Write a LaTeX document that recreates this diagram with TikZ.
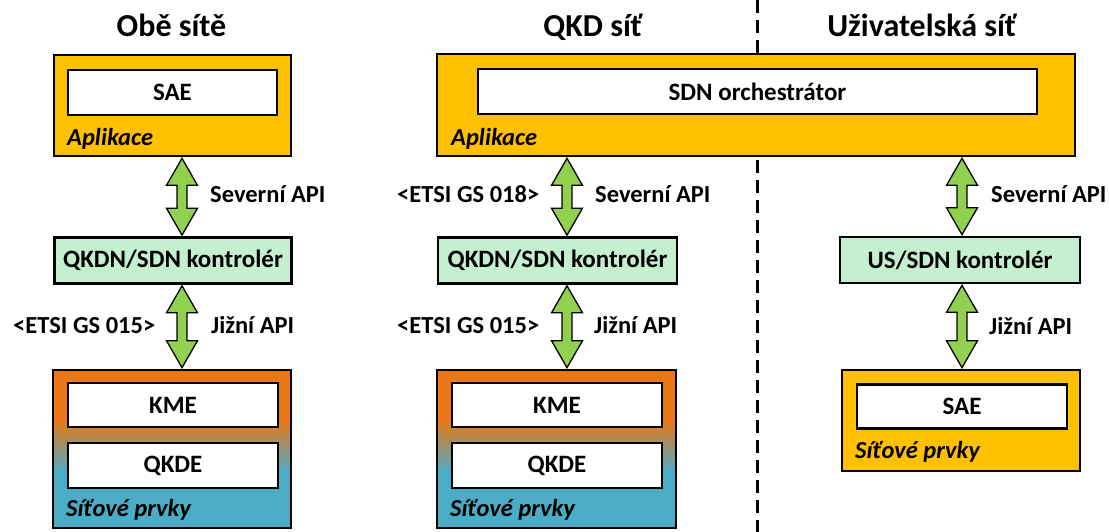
\documentclass[tikz,border=0pt]{standalone}
\usepackage{fontspec}
\setmainfont{Carlito}
\usetikzlibrary{calc,backgrounds}
\definecolor{gold}{HTML}{FFC000}
\definecolor{mint}{HTML}{C5F0D0}
\definecolor{arrgreen}{HTML}{92D050}
\definecolor{netorange}{HTML}{EB7714}
\definecolor{netblue}{HTML}{4BACC6}
\newcommand{\dblarr}[3]{%
  \draw[arrst] let \p1=(#1.south), \p2=(#2.north) in
    (#3pt,\y1-1pt) -- (#3pt+15.5pt,\y1-28pt) -- (#3pt+5pt,\y1-28pt)
    -- (#3pt+5pt,\y2+28pt) -- (#3pt+15.5pt,\y2+28pt) -- (#3pt,\y2+1pt)
    -- (#3pt-15.5pt,\y2+28pt) -- (#3pt-5pt,\y2+28pt) -- (#3pt-5pt,\y1-28pt)
    -- (#3pt-15.5pt,\y1-28pt) -- cycle;}
\newcommand{\netgrad}[3]{% net node, kme node, qkde node
  \begin{pgfonlayer}{background}
  \fill[netorange] ($(#1.north west)+(1,1)$) rectangle ($(#1.east |- #2.south)+(-1,-8)$);
  \shade[top color=netorange, bottom color=netblue] ($(#1.west |- #2.south)+(1,-8.5)$) rectangle ($(#1.east |- #3.center)+(-1,6.5)$);
  \fill[netblue] ($(#1.west |- #3.center)+(1,6)$) rectangle ($(#1.south east)+(-1,-1)$);
  \end{pgfonlayer}}
\begin{document}
\begin{tikzpicture}[x=1pt,y=-1pt,
  txt/.style={font=\bfseries\fontsize{24.5}{28}\selectfont, inner sep=0pt},
  btxt/.style={font=\bfseries\fontsize{25}{28}\selectfont, inner sep=0pt},
  ttl/.style={font=\bfseries\fontsize{32}{36}\selectfont, inner sep=0pt, anchor=base},
  itl/.style={font=\bfseries\itshape\fontsize{24.5}{28}\selectfont, inner sep=0pt, anchor=base west},
  lab/.style={txt, anchor=base west},
  goldbox/.style={draw=black, line width=2.6pt, fill=gold, inner sep=0pt},
  whitebox/.style={draw=black, line width=2.6pt, fill=white, btxt},
  ctrlbox/.style={draw=black, line width=2.6pt, fill=mint, btxt},
  netbox/.style={draw=black, line width=2.6pt, inner sep=0pt},
  arrst/.style={draw=black, line width=1.3pt, fill=arrgreen, line join=miter},
  sep/.style={draw=black, line width=3pt, dash pattern=on 13pt off 7pt}
]
\useasboundingbox (0,0) rectangle (1109,532);

% separator
\coordinate (septop) at (757,0);
\coordinate (sepbot) at (757,532);
\draw[sep] (septop) -- (sepbot);

% titles
\node[ttl] (t1) at (171.5,37) {Obě sítě};
\node[ttl] (t2) at (593,37) {QKD síť};
\node[ttl] (t3) at (922,37) {Uživatelská síť};

% ---------- column 1
\node[goldbox, minimum width=237pt, minimum height=101pt] (app1) at (172.5,105.5) {};
\node[whitebox, minimum width=209pt, minimum height=45pt] (sae1) at (172.5,92.5) {SAE};
\node[itl] (apl1) at (67,146) {Aplikace};
\node[ctrlbox, minimum width=237pt, minimum height=46pt] (ctrl1) at (173,260.5) {QKDN/SDN kontrolér};
\node[netbox, minimum width=238pt, minimum height=158pt] (net1) at (172,449) {};
\node[whitebox, minimum width=210pt, minimum height=44pt] (kme1) at (173,405) {KME};
\node[whitebox, minimum width=210pt, minimum height=45pt] (qkde1) at (173,465.5) {QKDE};
\node[itl] (sp1) at (66,516) {Síťové prvky};
\netgrad{net1}{kme1}{qkde1}
\dblarr{app1}{ctrl1}{182}
\dblarr{ctrl1}{net1}{182}
\node[lab] (sev1) at (210,203) {Severní API};
\node[lab] (jiz1) at (211,333) {Jižní API};
\node[lab] (etsi1) at (13,333) {<ETSI GS 015>};

% ---------- column 2
\node[goldbox, minimum width=638pt, minimum height=102pt] (app2) at (756,105) {};
\node[whitebox, minimum width=559pt, minimum height=45pt] (orch) at (757.5,91.5) {SDN orchestrátor};
\node[itl] (apl2) at (451,146) {Aplikace};
\node[ctrlbox, minimum width=239pt, minimum height=46pt] (ctrl2) at (557.5,260.5) {QKDN/SDN kontrolér};
\node[netbox, minimum width=239pt, minimum height=158pt] (net2) at (556.5,449) {};
\node[whitebox, minimum width=210pt, minimum height=44pt] (kme2) at (557,405) {KME};
\node[whitebox, minimum width=210pt, minimum height=45pt] (qkde2) at (557,465.5) {QKDE};
\node[itl] (sp2) at (450,516) {Síťové prvky};
\netgrad{net2}{kme2}{qkde2}
\dblarr{app2}{ctrl2}{567}
\dblarr{ctrl2}{net2}{567}
\node[lab] (sev2) at (595,203) {Severní API};
\node[lab] (jiz2) at (594,333) {Jižní API};
\node[lab] (etsi2) at (397,203) {<ETSI GS 018>};
\node[lab] (etsi3) at (397,333) {<ETSI GS 015>};

% ---------- column 3
\node[ctrlbox, minimum width=240pt, minimum height=46pt] (ctrl3) at (960,260) {US/SDN kontrolér};
\node[goldbox, minimum width=238pt, minimum height=101pt] (net3) at (961,420.5) {};
\node[whitebox, minimum width=210pt, minimum height=44pt] (sae3) at (962,406.5) {SAE};
\node[itl] (sp3) at (855,458) {Síťové prvky};
\dblarr{app2}{ctrl3}{962}
\dblarr{ctrl3}{net3}{962}
\node[lab] (sev3) at (991,203) {Severní API};
\node[lab] (jiz3) at (989,334) {Jižní API};
\end{tikzpicture}
\end{document}
